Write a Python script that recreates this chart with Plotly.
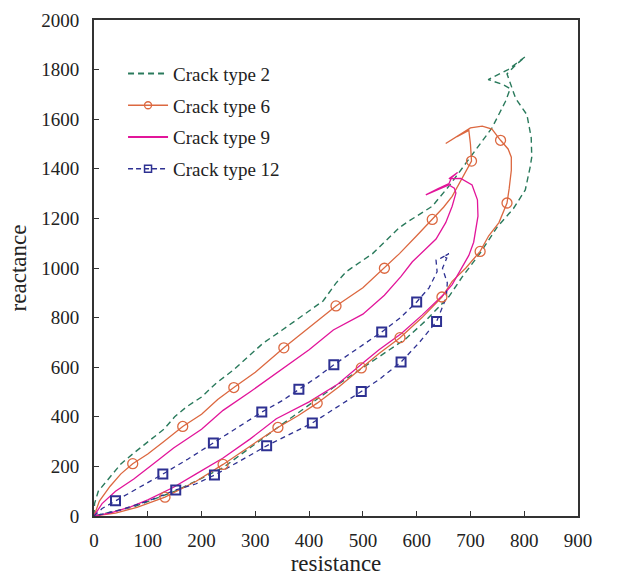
import plotly.graph_objects as go

# ---------------- data (resistance, reactance) ----------------
c2_x = [0, 1, 8, 30, 50, 74, 100, 130, 150, 172, 200, 228, 260, 290, 314, 350, 390, 426, 450, 469, 518,
        568, 586, 629, 660, 697, 740, 765, 774, 760, 733, 770, 802, 785, 768, 784, 805, 813, 814, 811,
        802, 780, 750, 718, 685, 660, 617, 580, 512, 445, 339, 240, 154, 74, 0]
c2_y = [0, 50, 100, 160, 210, 254, 300, 350, 400, 440, 480, 537, 590, 650, 696, 750, 810, 867, 939, 985, 1058,
        1163, 1190, 1249, 1330, 1440, 1565, 1671, 1723, 1740, 1760, 1800, 1852, 1820, 1783, 1684, 1618, 1526, 1447, 1407,
        1315, 1240, 1166, 1060, 965, 885, 788, 715, 617, 518, 353, 195, 103, 37, 0]

c6_x = [0, 10, 30, 50, 72, 100, 130, 165, 200, 230, 260, 300, 353, 400, 450, 500, 540, 568, 600, 629, 650,
        666, 690, 702, 700, 697, 675, 654, 680, 700, 722, 740, 756, 770, 776, 776, 772, 768, 753, 734, 718,
        691, 666, 647, 610, 569, 530, 497, 455, 415, 380, 342, 290, 240, 190, 132, 80, 40, 0]
c6_y = [0, 60, 120, 170, 211, 250, 300, 361, 410, 470, 518, 580, 678, 760, 847, 920, 999, 1058, 1130, 1196, 1245,
        1289, 1380, 1431, 1500, 1555, 1530, 1502, 1540, 1565, 1572, 1560, 1515, 1480, 1447, 1394, 1320, 1262, 1183, 1130, 1067,
        999, 946, 883, 800, 719, 655, 597, 520, 455, 405, 357, 280, 208, 140, 76, 35, 12, 0]
c6_mark_x = [72, 165, 260, 353, 450, 540, 629, 702, 756, 768, 718, 647, 569, 497, 415, 342, 240, 132]
c6_mark_y = [211, 361, 518, 678, 847, 999, 1196, 1431, 1515, 1262, 1067, 883, 719, 597, 455, 357, 208, 76]

c9_x = [0, 15, 40, 74, 110, 148, 200, 240, 290, 339, 400, 445, 500, 540, 571, 592, 611, 636, 654, 666,
        673, 670, 660, 640, 617, 640, 660, 665, 676, 660, 682, 703, 713, 714, 706, 697, 679, 666, 650,
        610, 571, 530, 500, 453, 400, 339, 290, 240, 190, 148, 100, 68, 30, 0]
c9_y = [0, 50, 100, 149, 210, 274, 350, 426, 500, 577, 670, 750, 814, 890, 966, 1025, 1064, 1117, 1183, 1249,
        1302, 1322, 1335, 1315, 1295, 1320, 1340, 1365, 1385, 1360, 1361, 1335, 1275, 1209, 1104, 1051, 985, 933, 893,
        810, 735, 670, 617, 531, 460, 392, 310, 234, 170, 116, 65, 37, 12, 0]

c12_x = [0, 15, 40, 80, 128, 175, 222, 270, 312, 350, 381, 415, 446, 490, 535, 570, 600, 623, 638, 636,
         645, 660, 650, 656, 648, 657, 655, 637, 605, 571, 530, 497, 450, 406, 360, 321, 270, 224, 190,
         152, 100, 50, 0]
c12_y = [0, 30, 61, 110, 169, 230, 294, 360, 419, 465, 511, 560, 610, 675, 742, 800, 863, 920, 985, 1032,
         1040, 1058, 1045, 1040, 999, 940, 880, 784, 700, 621, 550, 502, 435, 375, 325, 283, 220, 165, 130,
         105, 60, 25, 0]
c12_mark_x = [40, 128, 222, 312, 381, 446, 535, 600, 637, 571, 497, 406, 321, 224, 152]
c12_mark_y = [61, 169, 294, 419, 511, 610, 742, 863, 784, 621, 502, 375, 283, 165, 105]

x_ticks = [0, 100, 200, 300, 400, 500, 600, 700, 800, 900]
y_ticks = [0, 200, 400, 600, 800, 1000, 1200, 1400, 1600, 1800, 2000]

# ---------------- styles ----------------
GREEN = "#2a7a5c"
ORANGE = "#dc6840"
MAGENTA = "#e2159a"
NAVY = "#2e3192"
FONT = "Liberation Serif"

fig = go.Figure()

# curves
fig.add_trace(go.Scatter(x=c2_x, y=c2_y, mode="lines", showlegend=False,
                         line=dict(color=GREEN, width=1.4, dash="6px,4px")))
fig.add_trace(go.Scatter(x=c6_x, y=c6_y, mode="lines", showlegend=False,
                         line=dict(color=ORANGE, width=1.3)))
fig.add_trace(go.Scatter(x=c9_x, y=c9_y, mode="lines", showlegend=False,
                         line=dict(color=MAGENTA, width=1.3)))
fig.add_trace(go.Scatter(x=c12_x, y=c12_y, mode="lines", showlegend=False,
                         line=dict(color=NAVY, width=1.3, dash="5px,4px")))
# markers
fig.add_trace(go.Scatter(x=c6_mark_x, y=c6_mark_y, mode="markers", showlegend=False,
                         marker=dict(symbol="circle-open", size=10, color=ORANGE, line=dict(width=1.3))))
fig.add_trace(go.Scatter(x=c12_mark_x, y=c12_mark_y, mode="markers", showlegend=False,
                         marker=dict(symbol="square-open", size=9, color=NAVY, line=dict(width=2))))

# legend entries
fig.add_trace(go.Scatter(x=[None], y=[None], mode="lines", name="Crack type 2", legendgroup="a",
                         line=dict(color=GREEN, width=2, dash="6px,4px")))
fig.add_trace(go.Scatter(x=[None], y=[None], mode="lines+markers", name="Crack type 6", legendgroup="b",
                         line=dict(color=ORANGE, width=1.5),
                         marker=dict(symbol="circle-open", size=7, color=ORANGE, line=dict(width=1.3))))
fig.add_trace(go.Scatter(x=[None], y=[None], mode="lines", name="Crack type 9", legendgroup="c",
                         line=dict(color=MAGENTA, width=2)))
fig.add_trace(go.Scatter(x=[None], y=[None], mode="lines+markers", name="Crack type 12", legendgroup="d",
                         line=dict(color=NAVY, width=1.5, dash="5px,3px"),
                         marker=dict(symbol="square-open", size=7, color=NAVY, line=dict(width=1.5))))

axis_common = dict(
    showgrid=False, zeroline=False, showline=True, linecolor="#333333", linewidth=2,
    mirror=True, ticks="inside", ticklen=5, tickwidth=1.3, tickcolor="#333333",
    tickfont=dict(family=FONT, size=19, color="#222222"),
)

fig.update_xaxes(range=[0, 900], tickvals=x_ticks, ticktext=[str(v) for v in x_ticks],
                 title=dict(text="resistance", font=dict(family=FONT, size=23, color="#222222"), standoff=5),
                 ticklabelstandoff=6, **axis_common)
fig.update_yaxes(range=[0, 2000], tickvals=y_ticks, ticktext=[str(v) for v in y_ticks],
                 title=dict(text="reactance", font=dict(family=FONT, size=23, color="#222222"), standoff=8),
                 ticklabelstandoff=9, **axis_common)

fig.update_layout(
    width=618, height=586,
    margin=dict(l=94, r=40, t=10, b=70),
    paper_bgcolor="white", plot_bgcolor="white",
    legend=dict(x=0.06, y=0.93, xanchor="left", yanchor="top",
                font=dict(family=FONT, size=19, color="#222222"),
                bgcolor="rgba(0,0,0,0)", itemwidth=40, tracegroupgap=4,
                traceorder="grouped"),
)

fig.write_html("out.html")
